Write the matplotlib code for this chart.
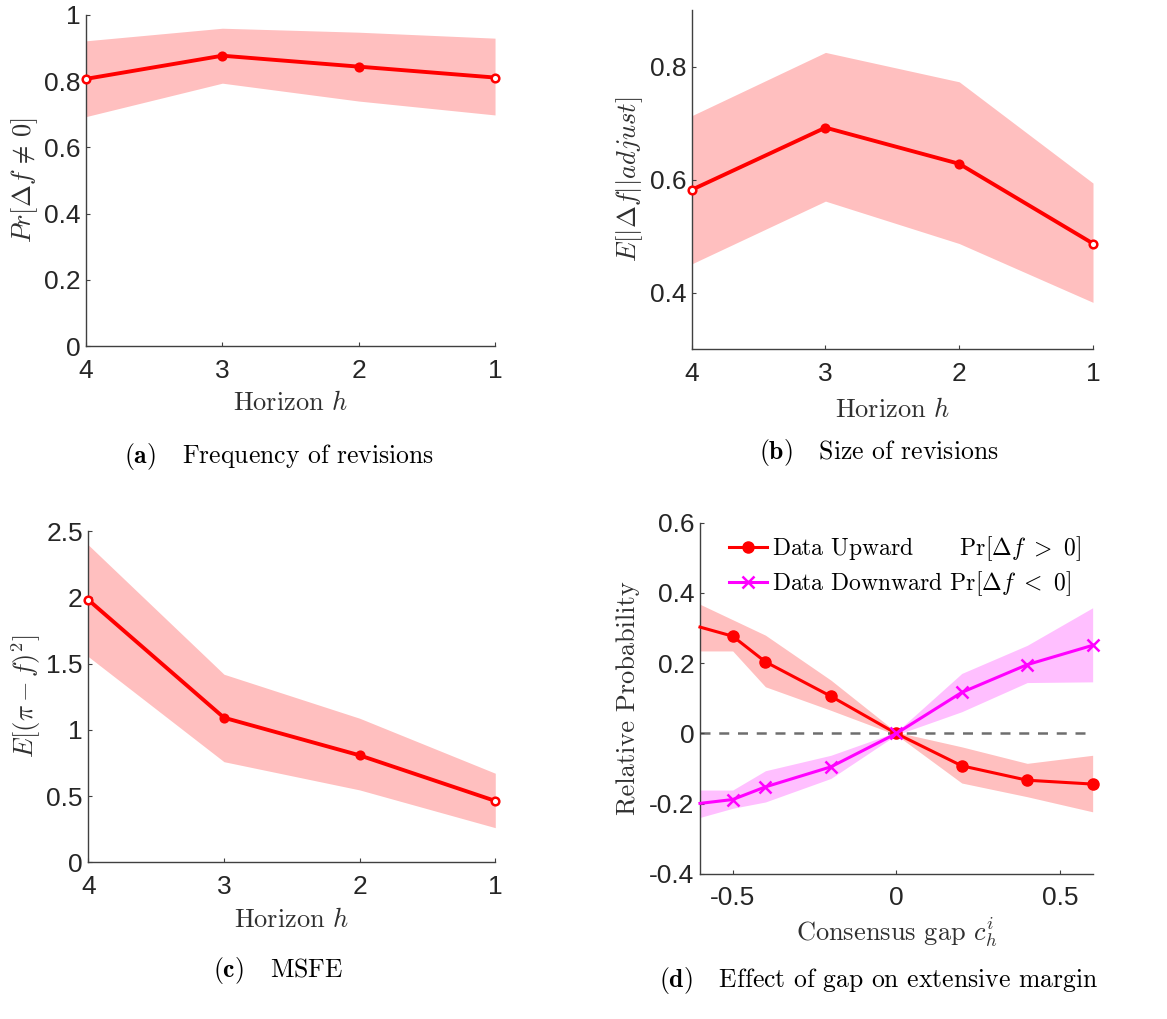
import numpy as np
import matplotlib.pyplot as plt
import matplotlib.transforms as mtransforms

plt.rcParams.update({
    "font.family": ["Liberation Sans", "DejaVu Sans"],
    "mathtext.fontset": "cm",
    "axes.linewidth": 1.0,
    "axes.edgecolor": "#404040",
    "xtick.direction": "in",
    "ytick.direction": "in",
    "xtick.major.size": 3,
    "ytick.major.size": 3,
    "xtick.major.pad": 9,
    "ytick.major.pad": 4,
    "xtick.color": "#404040",
    "ytick.color": "#404040",
    "xtick.labelcolor": "#262626",
    "ytick.labelcolor": "#262626",
    "xtick.labelsize": 19,
    "ytick.labelsize": 19,
})

# ---------------------------------------------------------------------------
# Data
# ---------------------------------------------------------------------------
horizon = [4, 3, 2, 1]

freq_mean = [0.807, 0.877, 0.844, 0.811]
freq_hi = [0.922, 0.960, 0.948, 0.930]
freq_lo = [0.693, 0.794, 0.740, 0.698]

size_mean = [0.582, 0.692, 0.628, 0.487]
size_hi = [0.713, 0.825, 0.773, 0.594]
size_lo = [0.451, 0.562, 0.487, 0.383]

msfe_mean = [1.98, 1.091, 0.807, 0.463]
msfe_hi = [2.395, 1.419, 1.087, 0.672]
msfe_lo = [1.552, 0.759, 0.546, 0.261]

gap = [-0.6, -0.5, -0.4, -0.2, 0.0, 0.2, 0.4, 0.6]

up_mean = [0.303, 0.277, 0.204, 0.106, 0.0, -0.092, -0.133, -0.144]
up_hi = [0.368, 0.324, 0.280, 0.152, 0.004, -0.038, -0.085, -0.062]
up_lo = [0.235, 0.235, 0.133, 0.066, -0.004, -0.141, -0.180, -0.223]

down_mean = [-0.199, -0.188, -0.152, -0.095, 0.0, 0.117, 0.196, 0.251]
down_hi = [-0.161, -0.161, -0.106, -0.062, 0.004, 0.171, 0.251, 0.358]
down_lo = [-0.239, -0.213, -0.195, -0.128, -0.004, 0.062, 0.145, 0.147]

RED = "#ff0000"
MAG = "#ff00ff"
LABEL_KW = dict(fontfamily="cmr10", fontsize=19, color="#303030")
CAP_KW = dict(fontfamily="cmr10", fontsize=18.5, ha="center", va="center")

W, H = 1167, 1019
fig = plt.figure(figsize=(W / 100, H / 100), dpi=100)


def style(ax):
    for s in ("top", "right"):
        ax.spines[s].set_visible(False)


def place_labels(ax, ylab_px, xlab_px):
    # put axis labels at fixed pixel offsets like the original layout
    ty = mtransforms.blended_transform_factory(fig.transFigure, ax.transAxes)
    ax.yaxis.set_label_coords(ylab_px / W, 0.5, transform=ty)
    ax.yaxis.label.set_va("center")
    tx = mtransforms.blended_transform_factory(ax.transAxes, fig.transFigure)
    ax.xaxis.set_label_coords(0.5, 1 - xlab_px / H, transform=tx)
    ax.xaxis.label.set_va("center")


def horizon_panel(ax, mean, lo, hi):
    ax.fill_between(horizon, lo, hi, color=RED, alpha=0.25, linewidth=0)
    ax.plot(horizon, mean, color=RED, linewidth=2.8, marker="o",
            markersize=5.5, markevery=[1, 2], markeredgewidth=1.8,
            clip_on=False, zorder=5)
    ax.plot(horizon[::3], mean[::3], linestyle="none", marker="o",
            markersize=5.5, markerfacecolor="white", markeredgecolor=RED,
            markeredgewidth=1.8, clip_on=False, zorder=6)
    ax.set_xlim(4, 1)
    ax.set_xticks(horizon)
    ax.set_xlabel("Horizon $h$", **LABEL_KW)
    style(ax)


# (a) frequency of revisions
ax_a = fig.add_axes([0.0737, 0.6604, 0.3505, 0.3249])
horizon_panel(ax_a, freq_mean, freq_lo, freq_hi)
ax_a.set_ylim(0, 1)
ax_a.set_yticks([0, 0.2, 0.4, 0.6, 0.8, 1])
ax_a.set_yticklabels(["0", "0.2", "0.4", "0.6", "0.8", "1"])
ax_a.set_ylabel(r"$Pr[\Delta f \,\neq\, 0]$", **LABEL_KW)
place_labels(ax_a, 25, 403)

# (b) size of revisions
ax_b = fig.add_axes([0.5927, 0.6572, 0.3439, 0.3330])
horizon_panel(ax_b, size_mean, size_lo, size_hi)
ax_b.set_ylim(0.3, 0.9)
ax_b.set_yticks([0.4, 0.6, 0.8])
ax_b.set_ylabel(r"$E[|\Delta f||adjust]$", **LABEL_KW)
place_labels(ax_b, 630, 410)

# (c) MSFE
ax_c = fig.add_axes([0.0757, 0.1538, 0.3487, 0.3251])
horizon_panel(ax_c, msfe_mean, msfe_lo, msfe_hi)
ax_c.set_ylim(0, 2.5)
ax_c.set_yticks([0, 0.5, 1, 1.5, 2, 2.5])
ax_c.set_yticklabels(["0", "0.5", "1", "1.5", "2", "2.5"])
ax_c.set_ylabel(r"$E[(\pi - f)^2]$", **LABEL_KW)
place_labels(ax_c, 26, 920)

# (d) effect of gap on extensive margin
ax_d = fig.add_axes([0.5998, 0.1423, 0.3365, 0.3447])
ax_d.axhline(0, color="#6e6e6e", linestyle=(0, (4, 3.5)), linewidth=1.8,
             xmax=0.985, zorder=1)
ax_d.fill_between(gap, up_lo, up_hi, color=RED, alpha=0.25, linewidth=0)
ax_d.fill_between(gap, down_lo, down_hi, color=MAG, alpha=0.25, linewidth=0)
ax_d.plot(gap, up_mean, color=RED, linewidth=2.2, marker="o", markersize=8,
          markevery=slice(1, None), clip_on=False, zorder=5,
          label=r"Data Upward      Pr$[\Delta f\ >\ 0]$")
ax_d.plot(gap, down_mean, color=MAG, linewidth=2.2, marker="x", markersize=9,
          markeredgewidth=1.8, markevery=slice(1, None), clip_on=False,
          zorder=6, label=r"Data Downward Pr$[\Delta f\ <\ 0]$")
ax_d.set_xlim(-0.6, 0.6)
ax_d.set_ylim(-0.4, 0.6)
ax_d.set_xticks([-0.5, 0, 0.5])
ax_d.set_xticklabels(["-0.5", "0", "0.5"])
ax_d.set_yticks([-0.4, -0.2, 0, 0.2, 0.4, 0.6])
ax_d.set_yticklabels(["-0.4", "-0.2", "0", "0.2", "0.4", "0.6"])
ax_d.set_xlabel(r"Consensus gap $c_h^i$", **LABEL_KW)
ax_d.set_ylabel("Relative Probability", **LABEL_KW)
place_labels(ax_d, 628, 932)
ax_d.legend(loc="upper right", frameon=False, handlelength=1.6,
            handletextpad=0.2, labelspacing=0.25, borderaxespad=0.1,
            prop={"family": "cmr10", "size": 17})
style(ax_d)

# captions
fig.text(279 / W, 1 - 457 / H, r"$\mathbf{(a)}$   Frequency of revisions", **CAP_KW)
fig.text(879 / W, 1 - 452 / H, r"$\mathbf{(b)}$   Size of revisions", **CAP_KW)
fig.text(278 / W, 1 - 970 / H, r"$\mathbf{(c)}$   MSFE", **CAP_KW)
fig.text(879 / W, 1 - 980 / H, r"$\mathbf{(d)}$   Effect of gap on extensive margin", **CAP_KW)

fig.savefig("out.png", dpi=100)
